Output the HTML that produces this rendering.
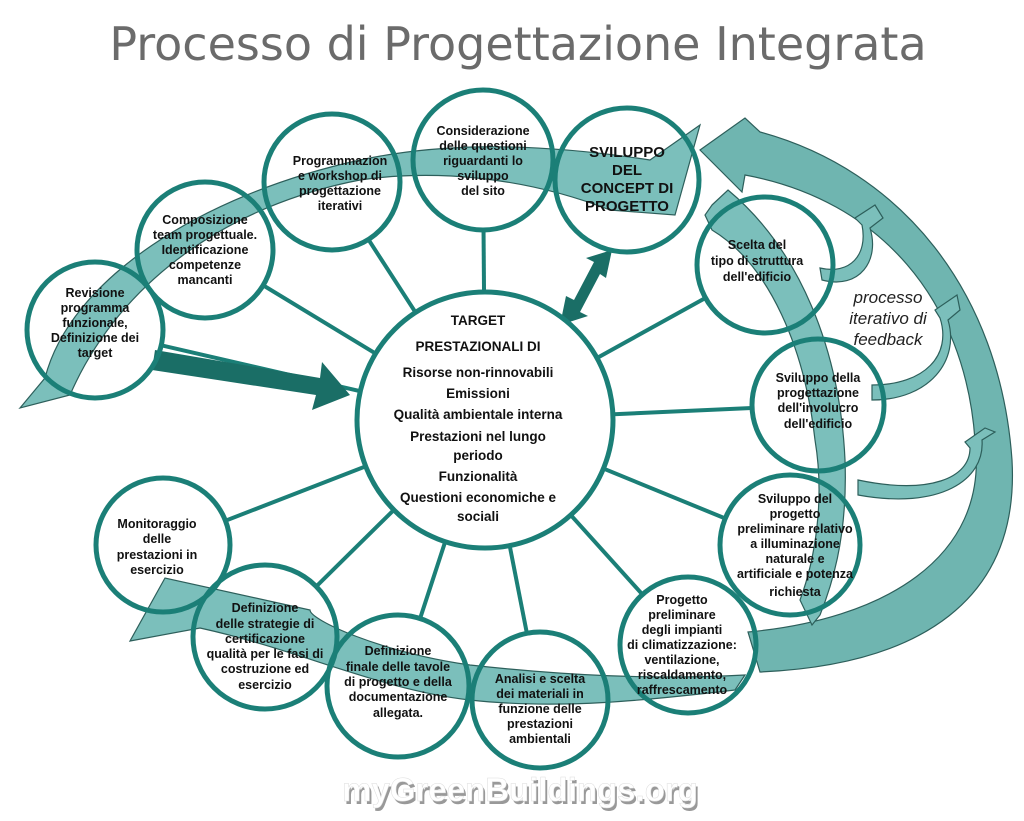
<!DOCTYPE html>
<html><head><meta charset="utf-8"><style>
html,body{margin:0;padding:0;background:#fff;}
svg{display:block;}
text{font-family:"Liberation Sans",Arial,sans-serif;font-weight:bold;fill:#111;text-anchor:middle;}
</style></head><body>
<svg width="1024" height="821" viewBox="0 0 1024 821" xmlns="http://www.w3.org/2000/svg">
<defs>
<mask id="m">
<rect x="0" y="0" width="1024" height="821" fill="#fff"/>
<g fill="#000">
<circle cx="95" cy="330" r="68"/>
<circle cx="205" cy="250" r="68"/>
<circle cx="332" cy="182" r="68"/>
<circle cx="483" cy="160" r="70"/>
<circle cx="765" cy="265" r="68"/>
<circle cx="818" cy="405" r="66"/>
<circle cx="790" cy="545" r="70"/>
<circle cx="688" cy="645" r="68"/>
<circle cx="540" cy="700" r="68"/>
<circle cx="398" cy="686" r="71"/>
<circle cx="265" cy="637" r="72"/>
<circle cx="163" cy="545" r="67"/>
</g>
</mask>
</defs>
<text x="518" y="60" style="font-family:'DejaVu Sans',sans-serif;font-weight:normal;font-size:46px;fill:#6b6b6b">Processo di Progettazione Integrata</text>

<g fill="#7bbfbb" stroke="#2d5f5b" stroke-width="1.2">
<path d="M700,150 L745,118 L760,132 C900,170 1000,290 1012,460 C1020,600 920,665 760,672 L748,632 C880,620 990,560 975,440 C965,300 880,200 745,175 L742,192 Z" fill="#6fb5b0"/>
<path d="M20,408 L45,378 C70,280 200,195 360,160 C430,145 520,140 650,160 L700,125 L675,215 L610,210 C520,175 430,170 360,180 C230,205 120,280 70,395 Z"/>
<path d="M712,205 L728,190 C800,250 840,350 845,460 C848,540 830,590 820,615 L812,625 L800,600 C815,560 825,500 815,440 C805,350 770,265 712,230 L705,215 Z"/>
<path d="M165,578 L130,641 L200,628 C300,650 380,690 470,700 C560,710 650,700 735,690 L745,675 C650,680 560,675 470,665 C380,652 310,620 310,610 Z"/>
<path d="M822,280 C860,290 880,260 870,228 L883,218 L875,205 L855,218 L862,225 C868,255 850,275 820,268 Z"/>
<path d="M872,400 C930,400 960,360 948,320 L960,310 L957,295 L935,310 L940,318 C952,355 925,385 872,385 Z"/>
<path d="M858,495 C940,510 985,480 982,440 L995,432 L985,428 L965,442 L970,448 C970,478 930,495 858,480 Z"/>
</g>

<g stroke="#1b7f77" stroke-width="4" mask="url(#m)">
<line x1="485" y1="420" x2="95" y2="330"/>
<line x1="485" y1="420" x2="205" y2="250"/>
<line x1="485" y1="420" x2="330" y2="180"/>
<line x1="485" y1="420" x2="483" y2="160"/>
<line x1="485" y1="420" x2="765" y2="265"/>
<line x1="485" y1="420" x2="818" y2="405"/>
<line x1="485" y1="420" x2="790" y2="545"/>
<line x1="485" y1="420" x2="688" y2="645"/>
<line x1="485" y1="420" x2="540" y2="700"/>
<line x1="485" y1="420" x2="398" y2="686"/>
<line x1="485" y1="420" x2="265" y2="637"/>
<line x1="485" y1="420" x2="163" y2="545"/>
</g>

<path d="M155,350 L320,378 L322,362 L350,395 L312,410 L316,395 L152,370 Z" fill="#1a6e66"/>
<path d="M560,325 L566,296 L574,300 L594,262 L586,258 L612,250 L606,278 L600,274 L580,312 L588,316 Z" fill="#1a6e66"/>

<g fill="none" stroke="#1b7f77" stroke-width="5">
<circle cx="95" cy="330" r="68"/>
<circle cx="205" cy="250" r="68"/>
<circle cx="332" cy="182" r="68"/>
<circle cx="483" cy="160" r="70"/>
<circle cx="627" cy="180" r="72"/>
<circle cx="765" cy="265" r="68"/>
<circle cx="818" cy="405" r="66"/>
<circle cx="790" cy="545" r="70"/>
<circle cx="688" cy="645" r="68"/>
<circle cx="540" cy="700" r="68"/>
<circle cx="398" cy="686" r="71"/>
<circle cx="265" cy="637" r="72"/>
<circle cx="163" cy="545" r="67"/>
<circle cx="485" cy="420" r="128" fill="#fff"/>
</g>

<g font-size="12.5">
<text x="95" y="297">Revisione</text><text x="95" y="312">programma</text><text x="95" y="327">funzionale,</text><text x="95" y="342">Definizione dei</text><text x="95" y="357">target</text>
<text x="205" y="224">Composizione</text><text x="205" y="239">team progettuale.</text><text x="205" y="254">Identificazione</text><text x="205" y="269">competenze</text><text x="205" y="284">mancanti</text>
<text x="340" y="165">Programmazion</text><text x="340" y="180">e workshop di</text><text x="340" y="195">progettazione</text><text x="340" y="210">iterativi</text>
<text x="483" y="135">Considerazione</text><text x="483" y="150">delle questioni</text><text x="483" y="165">riguardanti lo</text><text x="483" y="180">sviluppo</text><text x="483" y="195">del sito</text>
<text x="627" y="157" font-size="15">SVILUPPO</text><text x="627" y="175" font-size="15">DEL</text><text x="627" y="193" font-size="15">CONCEPT DI</text><text x="627" y="211" font-size="15">PROGETTO</text>
<text x="757" y="249">Scelta del</text><text x="757" y="265">tipo di struttura</text><text x="757" y="281">dell'edificio</text>
<text x="818" y="382">Sviluppo della</text><text x="818" y="397">progettazione</text><text x="818" y="412">dell'involucro</text><text x="818" y="428">dell'edificio</text>
<text x="795" y="503">Sviluppo del</text><text x="795" y="518">progetto</text><text x="795" y="533">preliminare relativo</text><text x="795" y="548">a illuminazione</text><text x="795" y="563">naturale e</text><text x="795" y="578">artificiale e potenza</text><text x="795" y="596">richiesta</text>
<text x="682" y="604">Progetto</text><text x="682" y="619">preliminare</text><text x="682" y="634">degli impianti</text><text x="682" y="649">di climatizzazione:</text><text x="682" y="664">ventilazione,</text><text x="682" y="679">riscaldamento,</text><text x="682" y="694">raffrescamento</text>
<text x="540" y="683">Analisi e scelta</text><text x="540" y="698">dei materiali in</text><text x="540" y="713">funzione delle</text><text x="540" y="728">prestazioni</text><text x="540" y="743">ambientali</text>
<text x="398" y="655">Definizione</text><text x="398" y="671">finale delle tavole</text><text x="398" y="686">di progetto e della</text><text x="398" y="701">documentazione</text><text x="398" y="717">allegata.</text>
<text x="265" y="612">Definizione</text><text x="265" y="628">delle strategie di</text><text x="265" y="643">certificazione</text><text x="265" y="658">qualità per le fasi di</text><text x="265" y="673">costruzione ed</text><text x="265" y="689">esercizio</text>
<text x="157" y="528">Monitoraggio</text><text x="157" y="543">delle</text><text x="157" y="559">prestazioni in</text><text x="157" y="574">esercizio</text>
</g>
<g font-size="13.5">
<text x="478" y="325">TARGET</text>
<text x="478" y="351">PRESTAZIONALI DI</text>
<text x="478" y="377">Risorse non-rinnovabili</text>
<text x="478" y="398">Emissioni</text>
<text x="478" y="419">Qualità ambientale interna</text>
<text x="478" y="441">Prestazioni nel lungo</text>
<text x="478" y="460">periodo</text>
<text x="478" y="481">Funzionalità</text>
<text x="478" y="502">Questioni economiche e</text>
<text x="478" y="521">sociali</text>
</g>
<g font-size="17" style="font-style:italic">
<text x="888" y="303" style="font-weight:normal;fill:#222">processo</text>
<text x="888" y="324" style="font-weight:normal;fill:#222">iterativo di</text>
<text x="888" y="345" style="font-weight:normal;fill:#222">feedback</text>
</g>
<text x="522" y="804" style="font-size:33px;fill:#999">myGreenBuildings.org</text>
<text x="520" y="801" style="font-size:33px;fill:#fff;stroke:#ddd;stroke-width:0.5">myGreenBuildings.org</text>
</svg>
</body></html>
